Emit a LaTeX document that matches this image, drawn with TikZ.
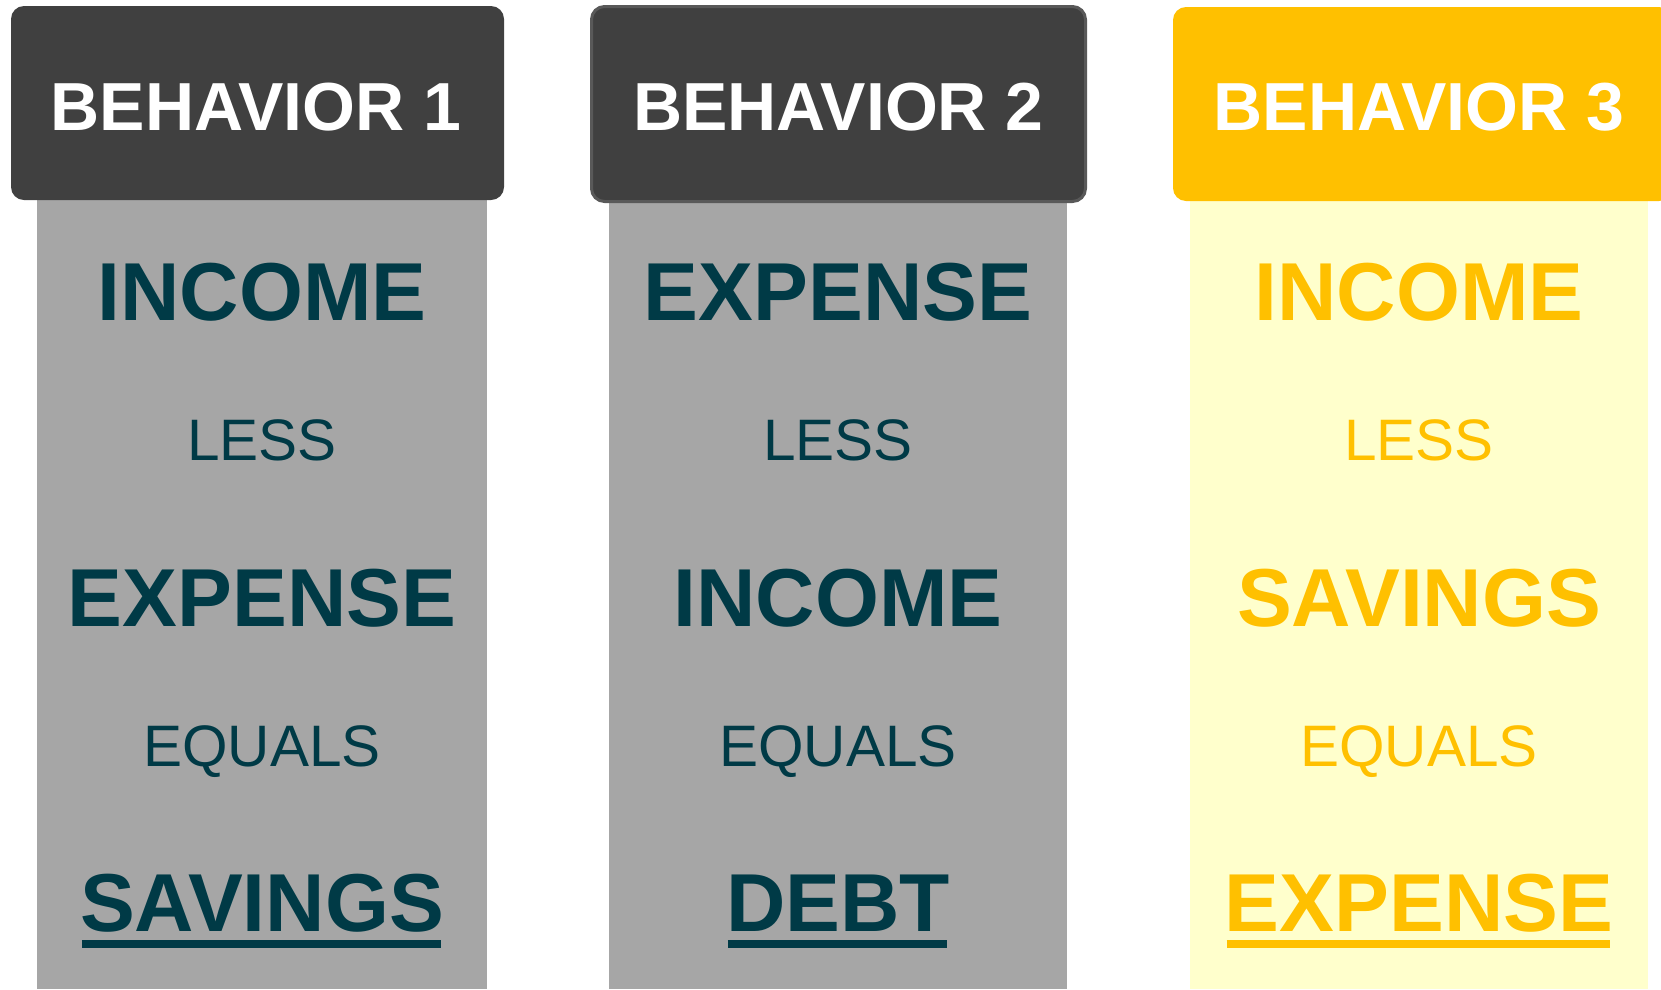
\documentclass[tikz,border=0pt]{standalone}
\usepackage{fontspec}
\setmainfont{Liberation Sans}
\usetikzlibrary{calc}
\definecolor{hdrdark}{HTML}{404040}
\definecolor{hdredge}{HTML}{595959}
\definecolor{colgray}{HTML}{A6A6A6}
\definecolor{tealtext}{HTML}{003A46}
\definecolor{gold}{HTML}{FFC000}
\definecolor{paleyellow}{HTML}{FFFFCC}
\begin{document}
\begin{tikzpicture}[x=1pt,y=-1pt,
  hdrbox/.style={rounded corners=13pt},
  hdrtext/.style={anchor=base, inner sep=0pt, text=white,
    font=\fontsize{68}{78}\selectfont\bfseries},
  bigword/.style={anchor=base, inner sep=0pt,
    font=\fontsize{82.2}{90}\selectfont\bfseries},
  smallword/.style={anchor=base, inner sep=0pt,
    font=\fontsize{58.5}{66}\selectfont},
  uline/.style={line width=8.3pt}]
\useasboundingbox (0,0) rectangle (1661,989);
\fill[white] (0,0) rectangle (1661,989);

% column panels
\fill[colgray]    (37,150)   rectangle (487,989);
\fill[colgray]    (609,150)  rectangle (1067,989);
\fill[paleyellow] (1190,150) rectangle (1648,989);

% header tabs
\fill[hdrdark, hdrbox] (11,6) rectangle (504,200);
\filldraw[fill=hdrdark, draw=hdredge, line width=3pt, hdrbox] (591.5,6.5) rectangle (1085.5,201.5);
\fill[gold, hdrbox] (1173,7) rectangle (1672,201);

\node[hdrtext] (h1) at (256,130) {BEHAVIOR 1};
\node[hdrtext] (h2) at (838.5,130) {BEHAVIOR 2};
\node[hdrtext] (h3) at (1419,130) {BEHAVIOR 3};

% behavior 1
\node[bigword, text=tealtext]   (a1) at (262,320.7) {INCOME};
\node[smallword, text=tealtext] (a2) at (262,460)   {LESS};
\node[bigword, text=tealtext]   (a3) at (262,626)   {EXPENSE};
\node[smallword, text=tealtext] (a4) at (262,766)   {EQUALS};
\node[bigword, text=tealtext]   (a5) at (262,931.7) {SAVINGS};
\draw[uline, tealtext] ($(a5.base west)+(2,12.5)$) -- ($(a5.base east)+(-3,12.5)$);

% behavior 2
\node[bigword, text=tealtext]   (b1) at (838,320.7) {EXPENSE};
\node[smallword, text=tealtext] (b2) at (838,460)   {LESS};
\node[bigword, text=tealtext]   (b3) at (838,626)   {INCOME};
\node[smallword, text=tealtext] (b4) at (838,766)   {EQUALS};
\node[bigword, text=tealtext]   (b5) at (838,931.7) {DEBT};
\draw[uline, tealtext] ($(b5.base west)+(2,12.5)$) -- ($(b5.base east)+(-3,12.5)$);

% behavior 3
\node[bigword, text=gold]   (c1) at (1419,320.7) {INCOME};
\node[smallword, text=gold] (c2) at (1419,460)   {LESS};
\node[bigword, text=gold]   (c3) at (1419,626)   {SAVINGS};
\node[smallword, text=gold] (c4) at (1419,766)   {EQUALS};
\node[bigword, text=gold]   (c5) at (1419,931.7) {EXPENSE};
\draw[uline, gold] ($(c5.base west)+(2,12.5)$) -- ($(c5.base east)+(-3,12.5)$);
\end{tikzpicture}
\end{document}
